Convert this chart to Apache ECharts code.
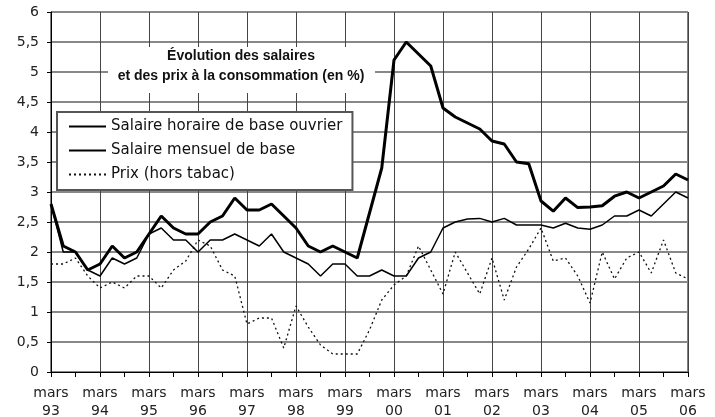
<!DOCTYPE html>
<html>
<head>
<meta charset="utf-8">
<script src="https://cdn.jsdelivr.net/npm/echarts@6/dist/echarts.min.js"></script>
<style>
html, body { margin:0; padding:0; background:#fff; }
#chart_panel { width:715px; height:417px; }
</style>
</head>
<body>
<div id="chart_panel"></div>
<script>
// trimestres : mars, juin, sept, déc de 93 à mars 06
var annees = ['93','94','95','96','97','98','99','00','01','02','03','04','05','06'];
var mois = ['mars','juin','sept','déc'];

var salaireHoraire = [2.8, 2.1, 2.0, 1.7, 1.8, 2.1, 1.9, 2.0, 2.3, 2.6, 2.4, 2.3, 2.3, 2.5, 2.6, 2.9,
	2.7, 2.7, 2.8, 2.6, 2.4, 2.1, 2.0, 2.1, 2.0, 1.9, 2.65, 3.4, 5.2, 5.5, 5.3, 5.1,
	4.4, 4.25, 4.15, 4.05, 3.85, 3.8, 3.5, 3.47, 2.85, 2.68, 2.9, 2.74, 2.75, 2.77, 2.93, 3.0,
	2.9, 3.0, 3.1, 3.3, 3.2];
var salaireMensuel = [2.8, 2.0, 2.0, 1.7, 1.6, 1.9, 1.8, 1.9, 2.3, 2.4, 2.2, 2.2, 2.0, 2.2, 2.2, 2.3,
	2.2, 2.1, 2.3, 2.0, 1.9, 1.8, 1.6, 1.8, 1.8, 1.6, 1.6, 1.7, 1.6, 1.6, 1.9, 2.0,
	2.4, 2.5, 2.55, 2.56, 2.5, 2.56, 2.45, 2.45, 2.45, 2.4, 2.48, 2.4, 2.38, 2.45, 2.6, 2.6,
	2.7, 2.6, 2.8, 3.0, 2.9];
var prix = [1.8, 1.8, 1.9, 1.6, 1.4, 1.5, 1.4, 1.6, 1.6, 1.4, 1.7, 1.85, 2.2, 2.1, 1.7, 1.6,
	0.8, 0.9, 0.9, 0.4, 1.1, 0.75, 0.45, 0.3, 0.3, 0.3, 0.7, 1.2, 1.45, 1.6, 2.1, 1.7,
	1.3, 2.0, 1.65, 1.3, 1.9, 1.2, 1.75, 2.05, 2.4, 1.85, 1.9, 1.6, 1.15, 2.0, 1.55, 1.9,
	2.0, 1.65, 2.2, 1.65, 1.55];

var nomsSeries = ['Salaire horaire de base ouvrier', 'Salaire mensuel de base', 'Prix (hors tabac)'];

var categories = [];
for (var a = 0; a < annees.length; a++) {
	for (var m = 0; m < mois.length; m++) {
		if (a == annees.length - 1 && m > 0) break;
		categories.push(mois[m] + ' ' + annees[a]);
	}
}

var police = 'DejaVu Sans, Verdana, sans-serif';
var policeTitre = 'bold 14px "Liberation Sans", Arial, sans-serif';
var myChart = echarts.init(document.getElementById('chart_panel'));

var option = {
	animation: false,
	backgroundColor: '#fff',
	grid: {
		left: 51, right: 27, top: 12, bottom: 45,
		outerBoundsMode: 'none',
		containLabel: false,
		show: true, borderColor: '#000', borderWidth: 1
	},
	legend: {
		data: nomsSeries,
		orient: 'vertical',
		left: 57, top: 112,
		padding: [7, 10, 8, 11],
		itemGap: 9,
		itemWidth: 37,
		itemHeight: 15,
		backgroundColor: '#fff',
		borderColor: '#555',
		borderWidth: 2,
		selectedMode: false,
		itemStyle: { opacity: 0 },
		textStyle: { fontFamily: police, fontSize: 15, color: '#111' }
	},
	xAxis: {
		type: 'category',
		boundaryGap: false,
		data: categories,
		axisLine: { lineStyle: { color: '#000', width: 1 } },
		axisTick: { interval: 1, length: 5, lineStyle: { color: '#000' } },
		axisLabel: {
			interval: 3,
			margin: 12,
			lineHeight: 18,
			fontFamily: police,
			fontSize: 14,
			color: '#222',
			formatter: function (v) { return v.replace(' ', '\n'); }
		},
		splitLine: { show: true, interval: 3, lineStyle: { color: '#444', width: 1 } }
	},
	yAxis: {
		type: 'value',
		min: 0, max: 6, interval: 0.5,
		axisLine: { show: true, lineStyle: { color: '#000', width: 1 } },
		axisTick: { show: true, length: 4, lineStyle: { color: '#000' } },
		axisLabel: {
			margin: 12,
			fontFamily: police,
			fontSize: 14,
			color: '#222',
			formatter: function (v) { return String(v).replace('.', ','); }
		},
		splitLine: { lineStyle: { color: '#888', width: 2 } }
	},
	graphic: [
		{ type: 'rect', z: 10, shape: { x: 108, y: 47, width: 267, height: 46 }, style: { fill: '#fff' } },
		{ type: 'text', z: 11, style: { text: 'Évolution des salaires', x: 241, y: 49, textAlign: 'center',
			font: policeTitre, fill: '#111' } },
		{ type: 'text', z: 11, style: { text: 'et des prix à la consommation (en %)', x: 241, y: 69, textAlign: 'center',
			font: policeTitre, fill: '#111' } }
	],
	series: [
		{
			name: nomsSeries[0], type: 'line', symbol: 'none', z: 4,
			lineStyle: { color: '#000', width: 3 },
			itemStyle: { color: '#000' },
			data: salaireHoraire
		},
		{
			name: nomsSeries[1], type: 'line', symbol: 'none', z: 3,
			lineStyle: { color: '#000', width: 1.5 },
			itemStyle: { color: '#000' },
			data: salaireMensuel
		},
		{
			name: nomsSeries[2], type: 'line', symbol: 'none', z: 2,
			lineStyle: { color: '#111', width: 1.3, type: [2, 3] },
			itemStyle: { color: '#111' },
			data: prix
		}
	]
};
myChart.setOption(option);
</script>
</body>
</html>
